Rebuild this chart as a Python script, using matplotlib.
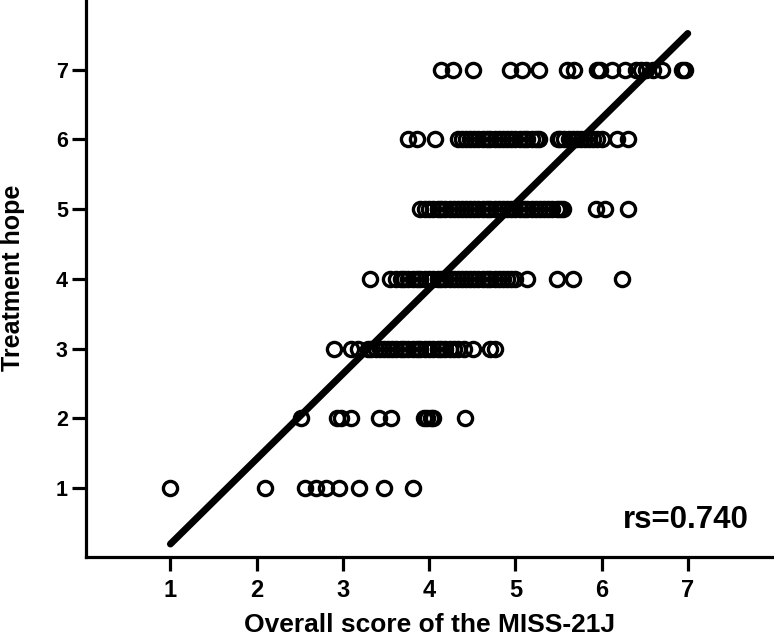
import matplotlib
matplotlib.use("Agg")
import matplotlib.pyplot as plt

plt.rcParams["font.family"] = ["Liberation Sans", "DejaVu Sans"]
plt.rcParams["font.weight"] = "bold"

# ── data ─────────────────────────────────────────────────────────────────────
# MISS-21J overall score for each respondent, grouped by treatment-hope level

hope_1 = [1.00, 2.10, 2.56, 2.69, 2.80, 2.95, 3.19, 3.48, 3.81]
hope_2 = [2.52, 2.93, 2.98, 3.09, 3.42, 3.56, 3.94, 3.98, 4.02, 4.05, 4.42]
hope_3 = [2.90, 3.09, 3.17, 3.29, 3.33, 3.38, 3.43, 3.48, 3.52, 3.57, 3.62,
          3.67, 3.71, 3.76, 3.81, 3.86, 3.90, 3.95, 4.00, 4.05, 4.10, 4.14,
          4.19, 4.24, 4.29, 4.33, 4.40, 4.51, 4.71, 4.76]
hope_4 = [3.32, 3.55, 3.62, 3.67, 3.71, 3.76, 3.81, 3.86, 3.90, 3.95, 4.00,
          4.05, 4.10, 4.14, 4.19, 4.24, 4.29, 4.33, 4.38, 4.43, 4.48, 4.52,
          4.57, 4.62, 4.67, 4.71, 4.76, 4.81, 4.86, 4.90, 4.95, 5.00, 5.14,
          5.48, 5.67, 6.24]
hope_5 = [3.90, 3.95, 4.00, 4.05, 4.10, 4.14, 4.19, 4.24, 4.29, 4.33, 4.38,
          4.43, 4.48, 4.52, 4.57, 4.62, 4.67, 4.71, 4.76, 4.81, 4.86, 4.90,
          4.95, 5.00, 5.05, 5.10, 5.14, 5.19, 5.24, 5.29, 5.33, 5.38, 5.43,
          5.48, 5.52, 5.55, 5.93, 6.04, 6.31]
hope_6 = [3.76, 3.86, 4.07, 4.33, 4.38, 4.43, 4.48, 4.52, 4.57, 4.62, 4.67,
          4.71, 4.76, 4.81, 4.86, 4.90, 4.95, 5.00, 5.05, 5.10, 5.14, 5.19,
          5.24, 5.27, 5.50, 5.52, 5.57, 5.62, 5.67, 5.71, 5.76, 5.81, 5.86,
          5.90, 5.95, 6.00, 6.18, 6.31]
hope_7 = [4.14, 4.28, 4.51, 4.94, 5.08, 5.28, 5.60, 5.68, 5.95, 5.98, 6.12,
          6.27, 6.40, 6.46, 6.52, 6.60, 6.70, 6.93, 6.97]

groups = {1: hope_1, 2: hope_2, 3: hope_3, 4: hope_4,
          5: hope_5, 6: hope_6, 7: hope_7}

# fitted line end points
fit_x = [1.0, 7.0]
fit_y = [0.20, 7.52]

RS_TEXT = "rs=0.740"
TICKS = [1, 2, 3, 4, 5, 6, 7]

# ── plot ─────────────────────────────────────────────────────────────────────

fig = plt.figure(figsize=(7.74, 6.39), dpi=100)
ax = fig.add_axes([0.111, 0.129, 0.889, 0.871])

for level, scores in groups.items():
    ax.plot(scores, [level] * len(scores), linestyle="none", marker="o",
            markersize=10.2, markerfacecolor="none", markeredgecolor="black",
            markeredgewidth=2.4, clip_on=False)

ax.plot(fit_x, fit_y, color="black", linewidth=5, solid_capstyle="round")

ax.text(7.71, 0.43, RS_TEXT, ha="right", va="baseline",
        fontsize=22.5, fontweight="bold")

ax.set_xlim(0.02, 8.0)
ax.set_ylim(0.02, 8.0)
ax.set_xticks(TICKS)
ax.set_yticks(TICKS)

for side in ["top", "right"]:
    ax.spines[side].set_visible(False)
for side in ["left", "bottom"]:
    ax.spines[side].set_linewidth(2.3)

ax.tick_params(axis="both", direction="out", length=10, width=2.3)
ax.tick_params(axis="x", labelsize=17, pad=6)
ax.tick_params(axis="y", labelsize=15.5, pad=3)

ax.set_xlabel("Overall score of the MISS-21J", fontsize=19, fontweight="bold",
              va="baseline")
ax.set_ylabel("Treatment hope", fontsize=18, fontweight="bold")
ax.xaxis.set_label_coords(0.5, -0.135)
ax.yaxis.set_label_coords(-0.0887, 0.5)

fig.savefig("out.png", dpi=100)
